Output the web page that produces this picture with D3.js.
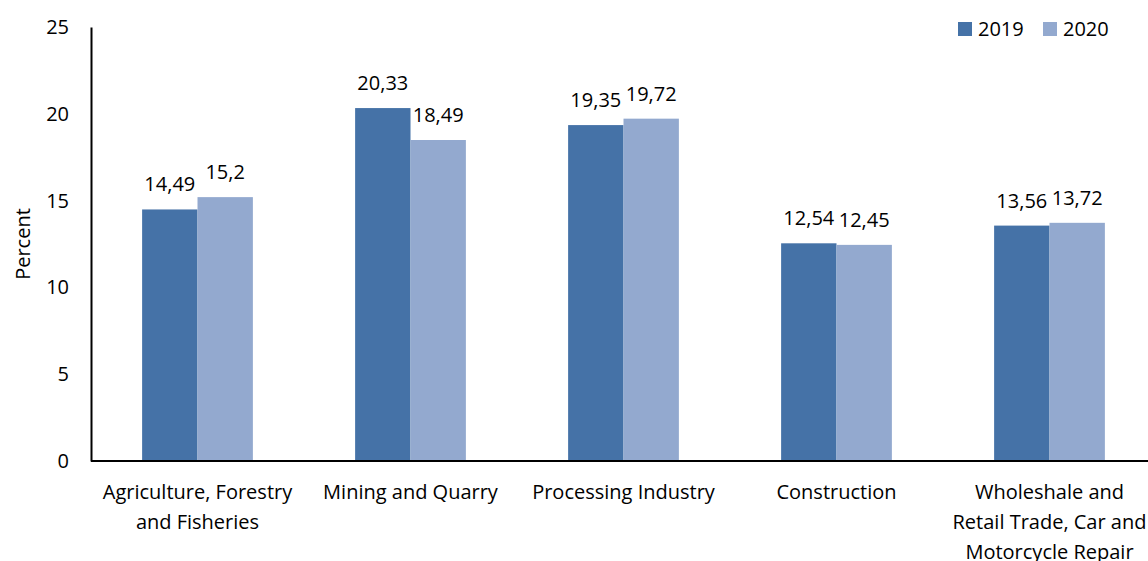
<!DOCTYPE html>
<html>
<head>
<meta charset="utf-8">
<script src="https://cdn.jsdelivr.net/npm/d3@7"></script>
<style>
  body { margin: 0; background: #fff; }
  svg { display: block; font-family: "Open Sans", "Noto Sans", sans-serif; }
</style>
</head>
<body>
<div id="chart"></div>
<script>
// Chart data
const categories = [
  ['Agriculture, Forestry', 'and Fisheries'],
  ['Mining and Quarry'],
  ['Processing Industry'],
  ['Construction'],
  ['Wholeshale and', 'Retail Trade, Car and', 'Motorcycle Repair']
];
const seriesNames = ['2019', '2020'];
const values2019 = [14.49, 20.33, 19.35, 12.54, 13.56];
const values2020 = [15.2, 18.49, 19.72, 12.45, 13.72];
const yTicks = [0, 5, 10, 15, 20, 25];

const WIDTH = 1148;
const HEIGHT = 561;
const COLORS = ['#4572a7', '#93a9cf'];
const FONT_SIZE = 20;

const plotLeft = 91, plotTop = 27, plotBottom = 461;
const step = 213;

const svg = d3.select('#chart')
  .append('svg')
  .attr('width', WIDTH)
  .attr('height', HEIGHT);

const keys = categories.map((c, i) => i);

const x = d3.scaleBand()
  .domain(keys)
  .range([plotLeft, plotLeft + step * keys.length])
  .paddingInner(0.48)
  .paddingOuter(0.24);

const x1 = d3.scaleBand()
  .domain(seriesNames)
  .range([0, x.bandwidth()]);

const y = d3.scaleLinear()
  .domain([0, 25])
  .range([plotBottom, plotTop]);

// bars
const series = [values2019, values2020];
const groups = svg.selectAll('.grp')
  .data(keys)
  .enter()
  .append('g')
  .attr('class', 'grp')
  .attr('transform', (d) => `translate(${x(d)},0)`);

groups.selectAll('rect')
  .data((d) => seriesNames.map((s, j) => ({ s, v: series[j][d] })))
  .enter()
  .append('rect')
  .attr('x', (d) => x1(d.s))
  .attr('width', x1.bandwidth())
  .attr('y', (d) => y(d.v))
  .attr('height', (d) => y(0) - y(d.v))
  .attr('fill', (d, j) => COLORS[j]);

groups.selectAll('.val')
  .data((d) => seriesNames.map((s, j) => ({ s, v: series[j][d] })))
  .enter()
  .append('text')
  .attr('class', 'val')
  .attr('x', (d) => x1(d.s) + x1.bandwidth() / 2)
  .attr('y', (d) => y(d.v) - 18)
  .attr('text-anchor', 'middle')
  .attr('font-size', FONT_SIZE)
  .attr('fill', '#000')
  .text((d) => String(d.v).replace('.', ','));

// y axis
const yAxis = svg.append('g')
  .attr('transform', `translate(${plotLeft},0)`)
  .call(d3.axisLeft(y).tickValues(yTicks).tickSize(0).tickPadding(22));
yAxis.select('.domain').attr('stroke', '#000').attr('stroke-width', 2);
yAxis.selectAll('text')
  .attr('font-size', FONT_SIZE)
  .attr('font-family', '"Open Sans", sans-serif')
  .attr('fill', '#000');

// x axis
const xAxis = svg.append('g')
  .attr('transform', `translate(0,${plotBottom})`)
  .call(d3.axisBottom(x).tickSize(0).tickFormat(''));
xAxis.select('.domain')
  .attr('d', `M${plotLeft},0H${WIDTH + 20}`)
  .attr('stroke', '#000').attr('stroke-width', 2);

const catLabels = svg.selectAll('.cat')
  .data(keys)
  .enter()
  .append('text')
  .attr('class', 'cat')
  .attr('text-anchor', 'middle')
  .attr('font-size', FONT_SIZE)
  .attr('fill', '#000');

catLabels.selectAll('tspan')
  .data((d) => categories[d].map((line) => ({ line, d })))
  .enter()
  .append('tspan')
  .attr('x', (t) => x(t.d) + x.bandwidth() / 2)
  .attr('y', (t, i) => 499 + i * 30)
  .text((t) => t.line);

// y title
svg.append('text')
  .attr('transform', `translate(30,${(plotTop + plotBottom) / 2}) rotate(-90)`)
  .attr('text-anchor', 'middle')
  .attr('font-size', FONT_SIZE)
  .attr('fill', '#000')
  .text('Percent');

// legend
const legend = svg.append('g').attr('transform', 'translate(958,22)');
seriesNames.forEach((s, i) => {
  const g = legend.append('g').attr('transform', `translate(${i * 85},0)`);
  g.append('rect').attr('width', 14).attr('height', 14).attr('fill', COLORS[i]);
  g.append('text')
    .attr('x', 20)
    .attr('y', 14)
    .attr('font-size', FONT_SIZE)
    .attr('fill', '#000')
    .text(s);
});
</script>
</body>
</html>
